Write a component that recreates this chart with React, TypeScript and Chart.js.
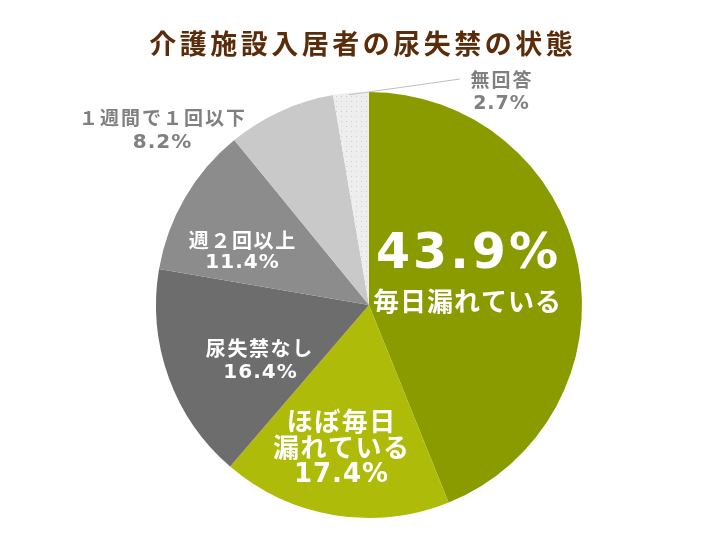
import React, { useEffect, useRef } from "react";
import { Chart, registerables } from "chart.js";

Chart.register(...registerables);

const title = "介護施設入居者の尿失禁の状態";
const categories = ["毎日漏れている", "ほぼ毎日漏れている", "尿失禁なし", "週２回以上", "１週間で１回以下", "無回答"];
const values = [43.9, 17.4, 16.4, 11.4, 8.2, 2.7];
const valueLabels = ["43.9%", "17.4%", "16.4%", "11.4%", "8.2%", "2.7%"];
const colors = ["#8a9b00", "#aebb08", "#6d6d6d", "#8c8c8c", "#c9c9c9", "dots"];

const FONT = '"DejaVu Sans", "Noto Sans CJK JP", sans-serif';
const JFONT = '"Noto Sans CJK JP", sans-serif';

function makeDots(): CanvasPattern | string {
  const c = document.createElement("canvas");
  c.width = 5;
  c.height = 5;
  const g = c.getContext("2d");
  if (!g) return "#ececec";
  g.fillStyle = "#eeeeee";
  g.fillRect(0, 0, 5, 5);
  g.fillStyle = "#cfcfcf";
  g.fillRect(1, 1, 1, 1);
  const p = g.createPattern(c, "repeat");
  return p || "#ececec";
}

const labelPlugin = {
  id: "labels",
  afterDraw(chart: any) {
    const ctx = chart.ctx as CanvasRenderingContext2D;
    const meta = chart.getDatasetMeta(0);
    const arcs = meta.data;
    const cx = arcs[0].x;
    const cy = arcs[0].y;
    const r = arcs[0].outerRadius;
    ctx.save();
    ctx.textAlign = "center";
    ctx.textBaseline = "middle";

    const put = (txt: string, x: number, y: number, size: number, color: string, sp: number, jp = false) => {
      ctx.fillStyle = color;
      ctx.font = `bold ${size}px ${jp ? JFONT : FONT}`;
      (ctx as any).letterSpacing = `${sp}px`;
      ctx.fillText(txt, x + sp / 2, y);
      (ctx as any).letterSpacing = "0px";
    };
    const pos = (i: number, frac: number) => {
      const a = (arcs[i].startAngle + arcs[i].endAngle) / 2;
      return [cx + Math.cos(a) * r * frac, cy + Math.sin(a) * r * frac];
    };

    // title
    put(title, 361, 44, 27, "#5b2c0a", 3.5, true);

    // 43.9%
    const [x0, y0] = [cx + 98, cy - 50];
    put(valueLabels[0], x0, y0, 49, "#ffffff", 3);
    put(categories[0], x0, y0 + 46, 26, "#ffffff", 1, true);

    // 17.4%
    const [x1, y1] = [cx - 28, cy + 142];
    put("ほぼ毎日", x1, y1 - 26, 26, "#ffffff", 1.5, true);
    put("漏れている", x1, y1, 26, "#ffffff", 1.5, true);
    put(valueLabels[1], x1, y1 + 28, 26, "#ffffff", 1);

    // 16.4%
    const [x2, y2] = [cx - 110, cy + 43];
    put(categories[2], x2, y2, 20, "#ffffff", 1.6, true);
    put(valueLabels[2], x2 + 1, y2 + 25, 20, "#ffffff", 1);

    // 11.4%
    const [x3, y3] = [cx - 127, cy - 65];
    put(categories[3], x3, y3, 20, "#ffffff", 1.6, true);
    put(valueLabels[3], x3, y3 + 23, 20, "#ffffff", 1);

    // 8.2% outside
    put(categories[4], 162, 118, 19, "#808080", 2, true);
    put(valueLabels[4], 162, 143, 20, "#808080", 1);

    // 2.7% outside with leader line
    const [lx, ly] = pos(5, 1.0);
    ctx.strokeStyle = "#bfbfbf";
    ctx.lineWidth = 1;
    ctx.beginPath();
    ctx.moveTo(lx - 2, ly + 2);
    ctx.lineTo(460, 79);
    ctx.stroke();
    put(categories[5], 501, 80, 19, "#808080", 2, true);
    put(valueLabels[5], 501, 104, 19, "#808080", 1);

    ctx.restore();
  },
};

export default function App() {
  const ref = useRef<HTMLCanvasElement | null>(null);
  useEffect(() => {
    if (!ref.current) return;
    const bg = colors.map((c) => (c === "dots" ? makeDots() : c));
    const chart = new Chart(ref.current, {
      type: "pie",
      data: {
        labels: categories,
        datasets: [
          {
            data: values,
            backgroundColor: bg as any,
            borderWidth: 0,
          },
        ],
      },
      options: {
        animation: false,
        responsive: false,
        layout: { padding: { top: 92, bottom: 27, left: 156, right: 144 } },
        plugins: {
          legend: { display: false },
          tooltip: { enabled: false },
          title: { display: false },
        },
      },
      plugins: [labelPlugin],
    });
    return () => chart.destroy();
  }, []);
  return (
    <div style={{ position: "fixed", left: 0, top: 0, width: 726, height: 545, background: "#ffffff" }}>
      <canvas ref={ref} width={726} height={545} style={{ width: 726, height: 545 }} />
    </div>
  );
}
